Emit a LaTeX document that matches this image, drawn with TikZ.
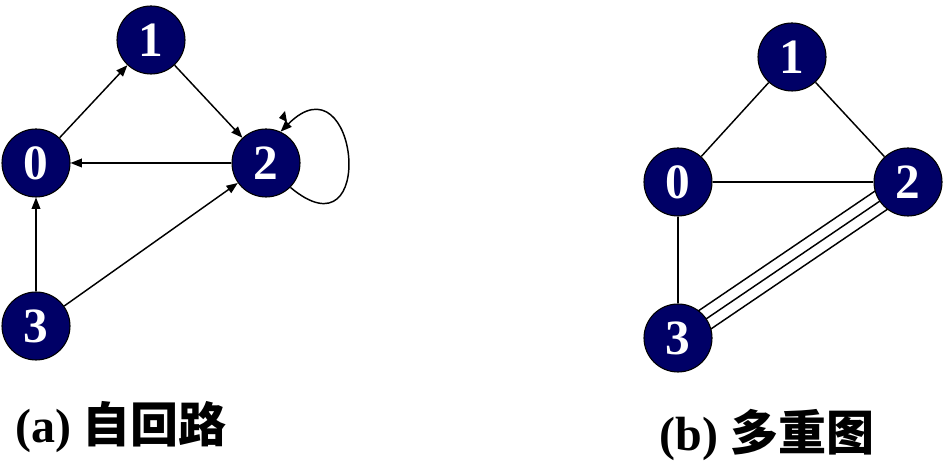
\documentclass[tikz,border=0pt]{standalone}
\usepackage{fontspec}
\setmainfont{Liberation Serif}
\newfontfamily\cjk{Noto Sans CJK SC}
\definecolor{navy}{HTML}{000066}
\usepackage{tikz}
\usetikzlibrary{arrows.meta,backgrounds}
\tikzset{
  >={Triangle[length=8.5pt,width=6.5pt]},
  vtx/.style={circle,draw=black,fill=navy,line width=0.8pt,minimum size=51pt,inner sep=0pt,
    font=\fontsize{37}{37}\selectfont\bfseries\color{white}},
  arr/.style={->,draw=black,line width=1.1pt},
  link/.style={draw=black,line width=1.1pt},
  captxt/.style={font=\fontsize{36}{40}\selectfont\bfseries,inner sep=0pt},
}

\begin{document}
\begin{tikzpicture}[x=0.75pt,y=0.75pt]
\useasboundingbox (0,0) rectangle (946,463);
% (a) self loop
\node[vtx] (n1) at (151,423) {1};
\node[vtx] (n0) at (36,300) {0};
\node[vtx] (n2) at (266,300) {2};
\node[vtx] (n3) at (36,137) {3};
\draw[arr] (n0) -- (n1);
\draw[arr] (n1) -- (n2);
\draw[arr] (n2) -- (n0);
\draw[arr] (n3) -- (n0);
\draw[arr] (n3) -- (n2);
\draw[arr] (n2.-45) .. controls +(-40:115) and +(45:110) .. (n2.65);
\fill (285,352) -- (287,341) -- (279,345) -- cycle;
\node[captxt] (capa) at (121,36) {(a) {\cjk 自回路}};
% (b) multigraph
\node[vtx] (m1) at (792,406) {1};
\node[vtx] (m0) at (678,281) {0};
\node[vtx] (m2) at (908,281) {2};
\node[vtx] (m3) at (678,125) {3};
\begin{scope}[on background layer]
\draw[link] (m0) -- (m1);
\draw[link] (m1) -- (m2);
\draw[link] (m0) -- (m2);
\draw[link] (m0) -- (m3);
\foreach \s in {-1,0,1}
  \draw[link] ([shift={(\s*-6.2,\s*9.1)}]m3.center) -- ([shift={(\s*-6.2,\s*9.1)}]m2.center);
\end{scope}
\node[captxt] (capb) at (767,28) {(b) {\cjk 多重图}};
\end{tikzpicture}
\end{document}
